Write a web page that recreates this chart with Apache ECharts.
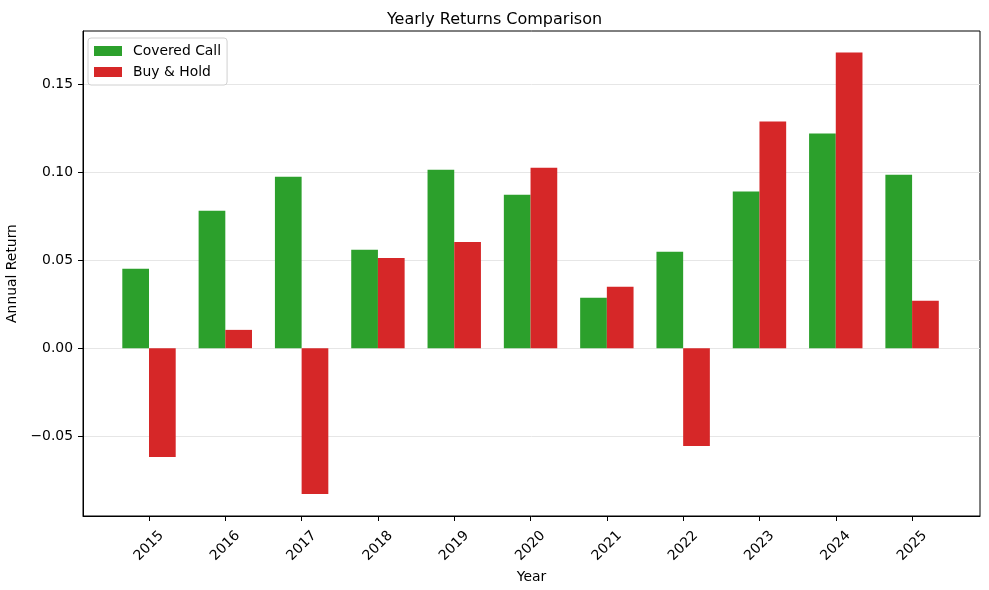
<!DOCTYPE html>
<html>
<head>
<meta charset="utf-8">
<script src="https://cdn.jsdelivr.net/npm/echarts@6/dist/echarts.min.js"></script>
<style>
  html, body { margin: 0; padding: 0; background: #fff; }
  #main { width: 989px; height: 590px; }
</style>
</head>
<body>
<div id="main"></div>
<script>
var years = [2015, 2016, 2017, 2018, 2019, 2020, 2021, 2022, 2023, 2024, 2025];
var coveredCall = [0.0451, 0.0781, 0.0974, 0.0559, 0.1014, 0.0872, 0.0286, 0.0548, 0.0890, 0.1220, 0.0986];
var buyHold = [-0.0619, 0.0104, -0.0829, 0.0513, 0.0604, 0.1026, 0.0349, -0.0556, 0.1288, 0.1681, 0.0269];
var yTicks = [-0.05, 0, 0.05, 0.10, 0.15];

var chart = echarts.init(document.getElementById('main'));
var font = 'DejaVu Sans';

function pairs(vals) {
  return years.map(function (y, i) { return [y, vals[i]]; });
}

var option = {
  animation: false,
  textStyle: { fontFamily: font },
  title: {
    text: 'Yearly Returns Comparison',
    left: 'center',
    top: 7,
    textStyle: { fontFamily: font, fontSize: 16, fontWeight: 'normal', color: '#000' }
  },
  legend: {
    left: 88,
    top: 38,
    orient: 'vertical',
    icon: 'rect',
    itemWidth: 28,
    itemHeight: 10,
    itemGap: 7,
    padding: [6, 6, 6, 6],
    borderColor: '#d0d0d0',
    borderWidth: 1,
    borderRadius: 3,
    backgroundColor: '#fff',
    textStyle: { fontFamily: font, fontSize: 13.9, color: '#000', padding: [0, 0, 0, 6] },
    data: ['Covered Call', 'Buy & Hold']
  },
  grid: {
    left: 83, right: 9, top: 31, bottom: 74,
    outerBoundsMode: 'none',
    containLabel: false,
    show: true, borderColor: '#000', borderWidth: 1
  },
  xAxis: {
    type: 'value',
    min: 2015 - 0.865,
    max: 2025 + 0.89,
    name: 'Year',
    nameLocation: 'middle',
    nameGap: 51,
    nameTextStyle: { fontFamily: font, fontSize: 13.9, color: '#000' },
    axisLine: { onZero: false, lineStyle: { color: '#000' } },
    axisTick: { customValues: years, length: 5, lineStyle: { color: '#000' } },
    axisLabel: {
      customValues: years,
      rotate: 45,
      align: 'center',
      verticalAlign: 'middle',
      margin: 30,
      fontFamily: font, fontSize: 13.9, color: '#000',
      formatter: function (v) { return String(Math.round(v)); }
    },
    splitLine: { show: false }
  },
  yAxis: {
    type: 'value',
    min: -0.0954,
    max: 0.1803,
    name: 'Annual Return',
    nameLocation: 'middle',
    nameGap: 59,
    nameTextStyle: { fontFamily: font, fontSize: 13.9, color: '#000' },
    axisLine: { show: true, onZero: false, lineStyle: { color: '#000' } },
    axisTick: { show: true, customValues: yTicks, length: 5, lineStyle: { color: '#000' } },
    axisLabel: {
      customValues: yTicks,
      margin: 10,
      fontFamily: font, fontSize: 13.9, color: '#000',
      formatter: function (v) {
        var s = Math.abs(v).toFixed(2);
        return v < -1e-9 ? '\u2212' + s : s;
      }
    },
    splitLine: { show: true, customValues: yTicks, lineStyle: { color: '#e6e6e6', width: 1 } }
  },
  series: [
    {
      name: 'Covered Call',
      type: 'bar',
      barWidth: 26.7,
      barGap: '0%',
      itemStyle: { color: '#2ca02c' },
      data: pairs(coveredCall)
    },
    {
      name: 'Buy & Hold',
      type: 'bar',
      barWidth: 26.7,
      barGap: '0%',
      itemStyle: { color: '#d62728' },
      data: pairs(buyHold)
    }
  ]
};

chart.setOption(option);
</script>
</body>
</html>
